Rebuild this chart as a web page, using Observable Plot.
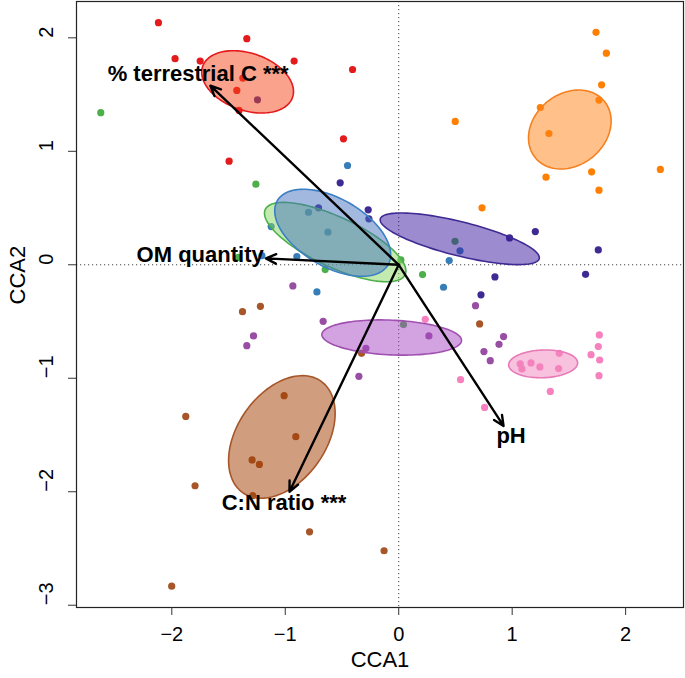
<!DOCTYPE html>
<html><head><meta charset="utf-8">
<script src="https://cdn.jsdelivr.net/npm/d3@7"></script>
<script src="https://cdn.jsdelivr.net/npm/@observablehq/plot@0.6"></script>
<style>body{margin:0;background:#fff;} #chart{width:685px;height:678px;}</style>
</head><body><div id="chart"></div>
<script>
// ---- Data (CCA site scores) ----
const ptsGreen = [[-2.626,1.340],[-1.259,0.710],[-1.413,0.066],[0.019,0.043],[0.210,-0.086],[-0.648,-0.042],[0.042,-0.527],[0.496,0.207]];
const ptsBlue = [[-0.451,0.875],[-0.795,0.463],[-1.124,0.337],[-0.624,0.287],[-1.206,0.081],[-0.898,0.072],[-0.721,-0.239],[0.395,-0.198],[0.445,0.037],[0.540,0.123]];
const ptsRed = [[-2.118,2.133],[-1.339,1.992],[-1.971,1.816],[-1.750,1.795],[-0.922,1.795],[-0.407,1.721],[-1.374,1.645],[-1.427,1.536],[-1.407,1.360],[-0.487,1.110],[-1.495,0.913]];
const ptsOrange = [[1.739,2.048],[1.830,1.865],[1.788,1.586],[1.765,1.451],[1.248,1.386],[1.324,1.157],[0.498,1.263],[2.306,0.840],[1.298,0.772],[1.700,0.819],[1.765,0.657],[0.734,0.502]];
const ptsIndigo = [[-0.516,0.722],[-0.707,0.502],[-0.269,0.484],[-0.263,0.405],[1.204,0.293],[0.977,0.237],[1.759,0.131],[0.848,-0.107],[1.647,-0.084],[0.725,-0.265],[-1.245,1.454]];
const ptsPurple = [[-0.933,-0.186],[-0.666,-0.498],[-1.280,-0.627],[-1.339,-0.713],[-0.289,-0.736],[-0.351,-0.983],[0.677,-0.360],[0.266,-0.627],[0.924,-0.633],[0.884,-0.701],[0.751,-0.765],[0.807,-0.845]];
const ptsPink = [[0.234,-0.481],[0.545,-1.012],[0.757,-1.257],[1.336,-1.116],[1.768,-0.618],[1.759,-0.721],[1.695,-0.792],[1.771,-0.839],[1.765,-0.977],[1.415,-0.780],[1.071,-0.874],[1.086,-0.918],[1.166,-0.865],[1.244,-0.900],[1.409,-0.915]];
const ptsBrown = [[-1.219,-0.366],[-1.377,-0.413],[-0.328,-0.780],[-1.010,-1.153],[-1.877,-1.336],[-0.907,-1.515],[-1.292,-1.720],[-1.228,-1.759],[0.713,-0.521],[-1.795,-1.947],[-1.286,-2.035],[-0.786,-2.353],[-0.129,-2.520],[-2.001,-2.832]];

// group order = drawing order of the ellipses
const groupPoints   = [ptsGreen, ptsBlue, ptsRed, ptsOrange, ptsIndigo, ptsPurple, ptsPink, ptsBrown];
const pointColors   = ["#4DAF4A","#377EB8","#E41A1C","#FF7F00","#3F2A93","#984EA3","#F781BF","#A65628"];
const ellipseFills  = ["#88D860","#4572C0","#F5461A","#FF8214","#3A1AA0","#A848C4","#F184BC","#A13B00"];
const ellipseStrokes= ["#4DAF4A","#3B7FC4","#E41A1C","#F58020","#3F2A93","#A050B0","#E87AB8","#A65628"];

// ellipse parameters (centre, semi-axes, rotation in degrees)
const ellCx    = [-0.56, -0.582, -1.332, 1.508, 0.538, -0.062, 1.273, -1.03];
const ellCy    = [0.20,   0.282,  1.612, 1.192, 0.229, -0.641, -0.873, -1.517];
const ellA     = [0.68,   0.564,  0.419, 0.393, 0.722, 0.616, 0.304, 0.60];
const ellB     = [0.22,   0.30,   0.252, 0.315, 0.15,  0.153, 0.122, 0.39];
const ellAngle = [-25,   -30,    -19,    39,   -14,   -2.5,   2,     55];

// environmental vectors
const envNames = ["% terrestrial C ***","OM quantity","pH","C:N ratio ***"];
const envX     = [-1.66, -1.171, 0.924, -0.963];
const envY     = [ 1.578, 0.056, -1.42, -2.00];
const envLabX  = [-1.768, -1.750, 0.990, -1.011];
const envLabY  = [ 1.682,  0.090, -1.506, -2.101];

const xTicks = [-2,-1,0,1,2];
const yTicks = [-3,-2,-1,0,1,2];

// ---- Build ----
const fmt = d => String(d).replace("-", "\u2212");
function ellipsePoly(i) {
  const th = ellAngle[i] * Math.PI / 180, out = [];
  for (let k = 0; k < 120; k++) {
    const t = 2 * Math.PI * k / 120;
    out.push({
      x: ellCx[i] + ellA[i]*Math.cos(t)*Math.cos(th) - ellB[i]*Math.sin(t)*Math.sin(th),
      y: ellCy[i] + ellA[i]*Math.cos(t)*Math.sin(th) + ellB[i]*Math.sin(t)*Math.cos(th)
    });
  }
  return out;
}
const env = envNames.map((n, i) => ({name: n, x: envX[i], y: envY[i], lx: envLabX[i], ly: envLabY[i]}));

const marks = [
  Plot.ruleX([0], {stroke: "#444", strokeDasharray: "1.2,2.8", strokeWidth: 1}),
  Plot.ruleY([0], {stroke: "#444", strokeDasharray: "1.2,2.8", strokeWidth: 1}),
];
groupPoints.forEach((pts, i) => {
  marks.push(Plot.dot(pts, {x: d => d[0], y: d => d[1], r: 3.6, fill: pointColors[i], stroke: "none"}));
});
groupPoints.forEach((pts, i) => {
  marks.push(Plot.line(ellipsePoly(i), {x: "x", y: "y", curve: "linear-closed",
    fill: ellipseFills[i], fillOpacity: 0.5, stroke: ellipseStrokes[i], strokeWidth: 1.6}));
});
marks.push(
  Plot.arrow(env, {x1: d => 0, y1: d => 0, x2: "x", y2: "y", stroke: "#000", strokeWidth: 2.4, headLength: 7, headAngle: 50}),
  Plot.text(env, {x: "lx", y: "ly", text: "name", fontSize: 22, fontWeight: "bold", fill: "#000"}),
  Plot.frame({stroke: "#222", strokeWidth: 1.2}),
  Plot.axisX({ticks: xTicks, tickSize: 8, tickPadding: 11, fontSize: 20, label: null, tickFormat: fmt, stroke: "#333"}),
  Plot.axisY({ticks: yTicks, tickSize: 8, tickFormat: () => "", label: null, stroke: "#333"}),
  Plot.text(yTicks, {y: d => d, text: d => fmt(d), frameAnchor: "left", dx: -30, rotate: -90, fontSize: 20, fill: "#000"}),
  Plot.text(["CCA1"], {text: d => d, frameAnchor: "bottom", dy: 59, fontSize: 22, fill: "#000"}),
  Plot.text(["CCA2"], {text: d => d, frameAnchor: "left", dx: -59, rotate: -90, fontSize: 22, fill: "#000"})
);

const chart = Plot.plot({
  width: 685, height: 678,
  marginLeft: 76, marginRight: 2, marginTop: 1, marginBottom: 71,
  x: {domain: [-2.84, 2.51]},
  y: {domain: [-3.02, 2.32]},
  style: {fontFamily: "'Liberation Sans', Arial, sans-serif", color: "#000", background: "#fff"},
  marks
});
document.getElementById("chart").appendChild(chart);
</script></body></html>
